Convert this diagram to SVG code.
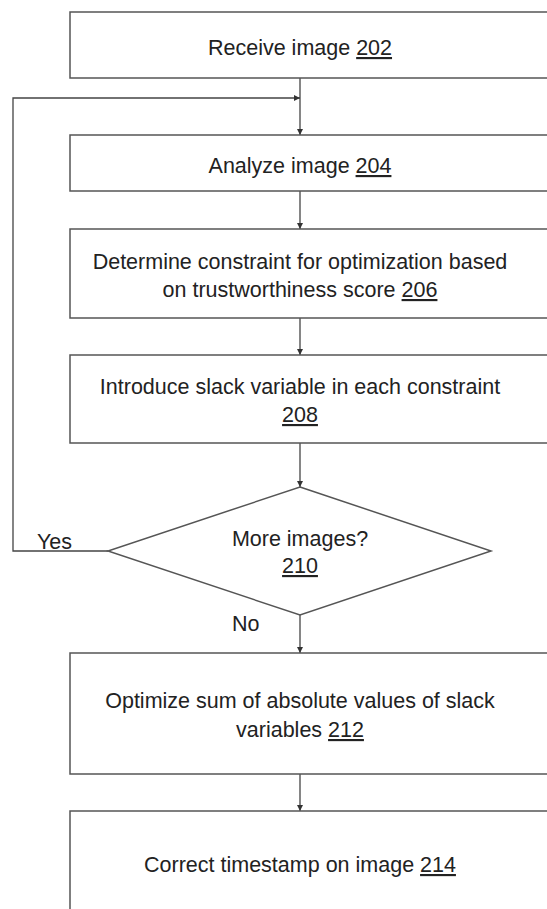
<svg xmlns="http://www.w3.org/2000/svg" width="547" height="909" viewBox="0 0 547 909">
<style>
.box{fill:#fff;stroke:#555;stroke-width:1.5}
.t{font-family:"Liberation Sans",Arial,sans-serif;font-size:21.5px;fill:#222;text-anchor:middle}
.l{font-family:"Liberation Sans",Arial,sans-serif;font-size:21.5px;fill:#222}
.u{text-decoration:underline}
.c{fill:none;stroke:#444;stroke-width:1.3}
</style>
<defs>
<marker id="ah" viewBox="0 0 8 8" refX="8" refY="4" markerWidth="6" markerHeight="6" markerUnits="userSpaceOnUse" orient="auto">
<path d="M0,0 L8,4 L0,8 z" fill="#333"/>
</marker>
</defs>
<rect width="547" height="909" fill="#fff"/>
<g id="connectors">
<path class="c" d="M300,78 V135" marker-end="url(#ah)"/>
<path class="c" d="M108,551 H13 V98 H300" marker-end="url(#ah)"/>
<path class="c" d="M300,191 V229" marker-end="url(#ah)"/>
<path class="c" d="M300,318 V355" marker-end="url(#ah)"/>
<path class="c" d="M300,443 V487" marker-end="url(#ah)"/>
<path class="c" d="M300,615 V653" marker-end="url(#ah)"/>
<path class="c" d="M300,774 V811" marker-end="url(#ah)"/>
</g>
<g id="n202">
<rect class="box" x="70" y="12" width="500" height="66"/>
<text class="t" x="300" y="55">Receive image <tspan class="u">202</tspan></text>
</g>
<g id="n204">
<rect class="box" x="70" y="135" width="500" height="56"/>
<text class="t" x="300" y="173">Analyze image <tspan class="u">204</tspan></text>
</g>
<g id="n206">
<rect class="box" x="70" y="229" width="500" height="89"/>
<text class="t" x="300" y="269">Determine constraint for optimization based</text>
<text class="t" x="300" y="297">on trustworthiness score <tspan class="u">206</tspan></text>
</g>
<g id="n208">
<rect class="box" x="70" y="355" width="500" height="88"/>
<text class="t" x="300" y="394">Introduce slack variable in each constraint</text>
<text class="t" x="300" y="422"><tspan class="u">208</tspan></text>
</g>
<g id="n210">
<polygon class="box" points="300,487 491,551 300,615 108,551"/>
<text class="t" x="300" y="546">More images?</text>
<text class="t" x="300" y="573"><tspan class="u">210</tspan></text>
<text class="l" x="37" y="549">Yes</text>
<text class="l" x="232" y="631">No</text>
</g>
<g id="n212">
<rect class="box" x="70" y="653" width="500" height="121"/>
<text class="t" x="300" y="708">Optimize sum of absolute values of slack</text>
<text class="t" x="300" y="737">variables <tspan class="u">212</tspan></text>
</g>
<g id="n214">
<rect class="box" x="70" y="811" width="500" height="120"/>
<text class="t" x="300" y="872">Correct timestamp on image <tspan class="u">214</tspan></text>
</g>
</svg>
